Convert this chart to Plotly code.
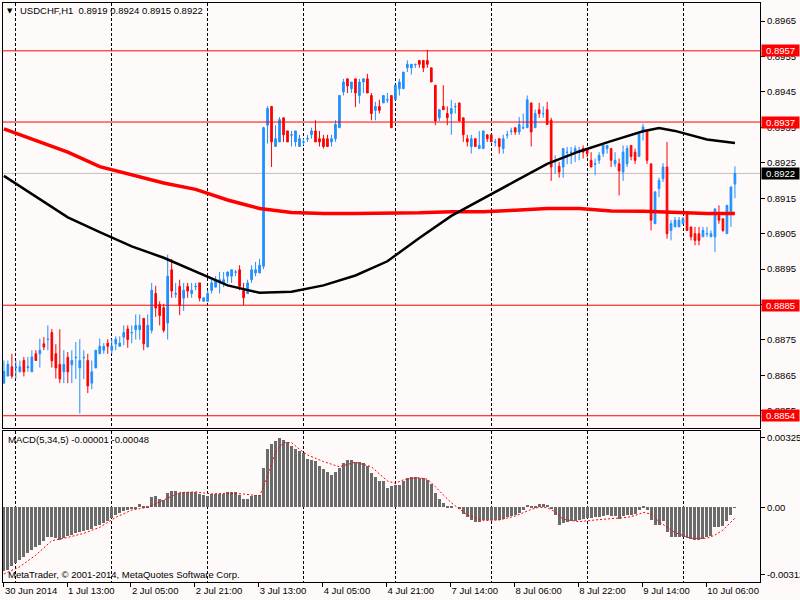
import plotly.graph_objects as go

# USDCHF H1 bars, index 0 = 30 Jun 2014 21:00, last = 10 Jul 13:00
opens = [
    0.88628, 0.88648, 0.88674, 0.88672, 0.88660, 0.88692, 0.88672, 0.88660, 0.88711, 0.88711,
    0.88739, 0.88751, 0.88771, 0.88711, 0.88681, 0.88660, 0.88701, 0.88680, 0.88700, 0.88671,
    0.88700, 0.88692, 0.88628, 0.88671, 0.88711, 0.88721, 0.88741, 0.88721, 0.88739, 0.88732,
    0.88758, 0.88781, 0.88770, 0.88779, 0.88779, 0.88811, 0.88730, 0.88777, 0.88881, 0.88850,
    0.88841, 0.88798, 0.88948, 0.88879, 0.88901, 0.88868, 0.88901, 0.88881, 0.88900, 0.88911,
    0.88859, 0.88859, 0.88890, 0.88899, 0.88911, 0.88911, 0.88930, 0.88930, 0.88941, 0.88948,
    0.88890, 0.88881, 0.88920, 0.88939, 0.88939, 0.88958, 0.89356, 0.89409, 0.89296, 0.89309,
    0.89377, 0.89340, 0.89328, 0.89309, 0.89296, 0.89308, 0.89317, 0.89329, 0.89340, 0.89318,
    0.89318, 0.89318, 0.89309, 0.89318, 0.89349, 0.89450, 0.89487, 0.89459, 0.89487, 0.89440,
    0.89478, 0.89487, 0.89440, 0.89398, 0.89409, 0.89419, 0.89427, 0.89440, 0.89428, 0.89459,
    0.89459, 0.89518, 0.89518, 0.89527, 0.89539, 0.89539, 0.89539, 0.89518, 0.89469, 0.89377,
    0.89409, 0.89389, 0.89389, 0.89408, 0.89419, 0.89377, 0.89318, 0.89296, 0.89318, 0.89290,
    0.89290, 0.89329, 0.89329, 0.89308, 0.89318, 0.89290, 0.89328, 0.89339, 0.89349, 0.89337,
    0.89348, 0.89349, 0.89419, 0.89349, 0.89400, 0.89388, 0.89400, 0.89370, 0.89253, 0.89240,
    0.89238, 0.89279, 0.89279, 0.89280, 0.89279, 0.89290, 0.89290, 0.89257, 0.89246, 0.89257,
    0.89276, 0.89290, 0.89290, 0.89247, 0.89247, 0.89224, 0.89247, 0.89299, 0.89280, 0.89268,
    0.89337, 0.89342, 0.89247, 0.89078, 0.89177, 0.89205, 0.89238, 0.89059, 0.89069, 0.89069,
    0.89078, 0.89106, 0.89069, 0.89050, 0.89050, 0.89041, 0.89049, 0.89041, 0.89041, 0.89101,
    0.89092, 0.89050, 0.89111, 0.89190,
]
highs = [
    0.88692, 0.88692, 0.88711, 0.88692, 0.88692, 0.88702, 0.88702, 0.88721, 0.88721, 0.88754,
    0.88758, 0.88791, 0.88781, 0.88738, 0.88780, 0.88721, 0.88716, 0.88721, 0.88744, 0.88752,
    0.88721, 0.88711, 0.88692, 0.88721, 0.88754, 0.88741, 0.88752, 0.88752, 0.88760, 0.88760,
    0.88791, 0.88791, 0.88791, 0.88822, 0.88822, 0.88811, 0.88822, 0.88911, 0.88903, 0.88859,
    0.88852, 0.88991, 0.88979, 0.88911, 0.88920, 0.88911, 0.88911, 0.88911, 0.88911, 0.88911,
    0.88869, 0.88890, 0.88920, 0.88930, 0.88942, 0.88942, 0.88942, 0.88948, 0.88948, 0.88961,
    0.88911, 0.88920, 0.88961, 0.88970, 0.88979, 0.89352, 0.89410, 0.89409, 0.89356, 0.89379,
    0.89377, 0.89340, 0.89340, 0.89340, 0.89329, 0.89318, 0.89329, 0.89349, 0.89370, 0.89340,
    0.89329, 0.89329, 0.89329, 0.89370, 0.89440, 0.89487, 0.89487, 0.89478, 0.89487, 0.89487,
    0.89487, 0.89501, 0.89447, 0.89422, 0.89428, 0.89440, 0.89447, 0.89440, 0.89469, 0.89487,
    0.89506, 0.89539, 0.89528, 0.89528, 0.89539, 0.89539, 0.89569, 0.89518, 0.89469, 0.89400,
    0.89469, 0.89409, 0.89428, 0.89419, 0.89419, 0.89377, 0.89329, 0.89329, 0.89318, 0.89340,
    0.89340, 0.89329, 0.89329, 0.89318, 0.89318, 0.89329, 0.89340, 0.89349, 0.89349, 0.89379,
    0.89389, 0.89440, 0.89419, 0.89400, 0.89419, 0.89409, 0.89422, 0.89377, 0.89271, 0.89252,
    0.89290, 0.89295, 0.89295, 0.89299, 0.89295, 0.89299, 0.89290, 0.89280, 0.89262, 0.89280,
    0.89299, 0.89299, 0.89290, 0.89280, 0.89262, 0.89299, 0.89299, 0.89299, 0.89290, 0.89330,
    0.89360, 0.89342, 0.89247, 0.89168, 0.89208, 0.89249, 0.89309, 0.89088, 0.89097, 0.89097,
    0.89097, 0.89106, 0.89069, 0.89069, 0.89069, 0.89069, 0.89069, 0.89059, 0.89120, 0.89130,
    0.89092, 0.89130, 0.89182, 0.89240,
]
lows = [
    0.88628, 0.88648, 0.88641, 0.88641, 0.88660, 0.88647, 0.88660, 0.88660, 0.88692, 0.88672,
    0.88721, 0.88721, 0.88672, 0.88641, 0.88628, 0.88628, 0.88628, 0.88628, 0.88640, 0.88542,
    0.88640, 0.88600, 0.88611, 0.88671, 0.88711, 0.88711, 0.88711, 0.88711, 0.88721, 0.88732,
    0.88735, 0.88728, 0.88741, 0.88751, 0.88751, 0.88721, 0.88730, 0.88768, 0.88815, 0.88791,
    0.88771, 0.88751, 0.88869, 0.88869, 0.88820, 0.88832, 0.88869, 0.88869, 0.88890, 0.88859,
    0.88859, 0.88859, 0.88881, 0.88899, 0.88881, 0.88899, 0.88911, 0.88911, 0.88930, 0.88890,
    0.88848, 0.88881, 0.88911, 0.88930, 0.88939, 0.88950, 0.89304, 0.89238, 0.89296, 0.89309,
    0.89309, 0.89309, 0.89296, 0.89296, 0.89296, 0.89300, 0.89309, 0.89318, 0.89309, 0.89296,
    0.89290, 0.89296, 0.89296, 0.89309, 0.89349, 0.89440, 0.89447, 0.89447, 0.89407, 0.89417,
    0.89447, 0.89447, 0.89370, 0.89370, 0.89389, 0.89419, 0.89419, 0.89349, 0.89428, 0.89440,
    0.89459, 0.89506, 0.89499, 0.89518, 0.89518, 0.89506, 0.89518, 0.89478, 0.89356, 0.89368,
    0.89400, 0.89356, 0.89329, 0.89389, 0.89368, 0.89309, 0.89296, 0.89276, 0.89296, 0.89290,
    0.89290, 0.89309, 0.89309, 0.89296, 0.89276, 0.89276, 0.89318, 0.89329, 0.89329, 0.89329,
    0.89345, 0.89349, 0.89296, 0.89349, 0.89377, 0.89377, 0.89358, 0.89199, 0.89219, 0.89208,
    0.89208, 0.89246, 0.89246, 0.89252, 0.89257, 0.89262, 0.89266, 0.89238, 0.89215, 0.89247,
    0.89266, 0.89276, 0.89238, 0.89238, 0.89158, 0.89199, 0.89238, 0.89257, 0.89247, 0.89268,
    0.89313, 0.89247, 0.89059, 0.89078, 0.89153, 0.89196, 0.89036, 0.89031, 0.89069, 0.89069,
    0.89078, 0.89059, 0.89031, 0.89017, 0.89017, 0.89041, 0.89041, 0.89041, 0.88998, 0.89078,
    0.89055, 0.89050, 0.89069, 0.89150,
]
closes = [
    0.88661, 0.88681, 0.88648, 0.88674, 0.88674, 0.88660, 0.88674, 0.88702, 0.88692, 0.88721,
    0.88730, 0.88752, 0.88691, 0.88671, 0.88640, 0.88681, 0.88660, 0.88692, 0.88701, 0.88692,
    0.88701, 0.88620, 0.88660, 0.88721, 0.88732, 0.88732, 0.88732, 0.88732, 0.88752, 0.88741,
    0.88771, 0.88751, 0.88771, 0.88791, 0.88791, 0.88739, 0.88791, 0.88890, 0.88840, 0.88819,
    0.88777, 0.88930, 0.88888, 0.88881, 0.88848, 0.88890, 0.88888, 0.88890, 0.88901, 0.88868,
    0.88869, 0.88881, 0.88911, 0.88920, 0.88920, 0.88920, 0.88942, 0.88948, 0.88942, 0.88901,
    0.88869, 0.88911, 0.88948, 0.88948, 0.88961, 0.89349, 0.89403, 0.89309, 0.89318, 0.89372,
    0.89329, 0.89309, 0.89329, 0.89340, 0.89318, 0.89309, 0.89318, 0.89340, 0.89309, 0.89309,
    0.89296, 0.89296, 0.89318, 0.89358, 0.89440, 0.89478, 0.89467, 0.89478, 0.89447, 0.89478,
    0.89487, 0.89447, 0.89389, 0.89409, 0.89398, 0.89440, 0.89428, 0.89349, 0.89469, 0.89478,
    0.89506, 0.89528, 0.89528, 0.89528, 0.89528, 0.89518, 0.89528, 0.89478, 0.89368, 0.89400,
    0.89400, 0.89377, 0.89403, 0.89409, 0.89368, 0.89329, 0.89309, 0.89318, 0.89296, 0.89299,
    0.89340, 0.89318, 0.89309, 0.89309, 0.89296, 0.89318, 0.89329, 0.89340, 0.89337, 0.89358,
    0.89349, 0.89428, 0.89337, 0.89389, 0.89389, 0.89389, 0.89358, 0.89238, 0.89254, 0.89224,
    0.89290, 0.89280, 0.89280, 0.89290, 0.89280, 0.89280, 0.89276, 0.89238, 0.89247, 0.89271,
    0.89299, 0.89299, 0.89257, 0.89257, 0.89227, 0.89280, 0.89290, 0.89268, 0.89257, 0.89330,
    0.89351, 0.89257, 0.89088, 0.89168, 0.89200, 0.89238, 0.89050, 0.89078, 0.89088, 0.89088,
    0.89092, 0.89059, 0.89041, 0.89031, 0.89031, 0.89059, 0.89050, 0.89050, 0.89120, 0.89088,
    0.89059, 0.89130, 0.89182, 0.89220,
]
bars = list(range(len(closes)))

# moving averages (bar index -> price)
ma_fast_idx = [0, 8, 16, 24, 32, 40, 48, 56, 64, 72, 80, 88, 96, 104, 112, 120, 128,
               136, 144, 152, 160, 164, 168, 176, 183]
ma_fast = [0.89213, 0.89154, 0.89096, 0.89054, 0.89014, 0.88982, 0.88944, 0.88904,
           0.88883, 0.88886, 0.88904, 0.88932, 0.88972, 0.89038, 0.89100, 0.89148,
           0.89198, 0.89247, 0.89282, 0.89311, 0.89339, 0.89348, 0.89340, 0.89316, 0.89306]
ma_slow_idx = [0, 8, 16, 24, 32, 40, 48, 56, 60, 64, 72, 80, 88, 96, 104, 112, 120,
               128, 136, 144, 152, 160, 168, 176, 183]
ma_slow = [0.89346, 0.89312, 0.89280, 0.89239, 0.89215, 0.89193, 0.89175, 0.89145,
           0.89133, 0.89121, 0.89110, 0.89107, 0.89107, 0.89107, 0.89109, 0.89112,
           0.89112, 0.89116, 0.89121, 0.89121, 0.89114, 0.89113, 0.89110, 0.89107, 0.89107]

# MACD(5,34,5) histogram, one value per bar
macd_hist = [
    -0.00297, -0.00290, -0.00274, -0.00259, -0.00243, -0.00228, -0.00212, -0.00197, -0.00184, -0.00173,
    -0.00158, -0.00138, -0.00138, -0.00142, -0.00150, -0.00142, -0.00135, -0.00127, -0.00119, -0.00115,
    -0.00108, -0.00104, -0.00101, -0.00088, -0.00081, -0.00073, -0.00062, -0.00051, -0.00034, -0.00026,
    -0.00019, -0.00014, -0.00008, -0.00003, 0.00016, 0.00002, 0.00005, 0.00048, 0.00051, 0.00039,
    0.00036, 0.00067, 0.00077, 0.00077, 0.00067, 0.00073, 0.00073, 0.00073, 0.00073, 0.00064,
    0.00057, 0.00054, 0.00064, 0.00064, 0.00064, 0.00064, 0.00073, 0.00073, 0.00073, 0.00057,
    0.00040, 0.00040, 0.00051, 0.00057, 0.00057, 0.00183, 0.00272, 0.00296, 0.00307, 0.00322,
    0.00311, 0.00302, 0.00286, 0.00271, 0.00260, 0.00252, 0.00226, 0.00218, 0.00214, 0.00194,
    0.00178, 0.00163, 0.00152, 0.00163, 0.00183, 0.00206, 0.00218, 0.00221, 0.00209, 0.00209,
    0.00206, 0.00190, 0.00159, 0.00139, 0.00124, 0.00121, 0.00090, 0.00101, 0.00104, 0.00105,
    0.00121, 0.00136, 0.00141, 0.00141, 0.00136, 0.00136, 0.00129, 0.00108, 0.00067, 0.00039,
    0.00020, 0.00008, 0.00005, 0.00000, -0.00008, -0.00031, -0.00046, -0.00057, -0.00070, -0.00070,
    -0.00057, -0.00057, -0.00057, -0.00057, -0.00057, -0.00053, -0.00045, -0.00042, -0.00034, -0.00026,
    -0.00014, 0.00012, 0.00002, 0.00008, 0.00017, 0.00017, 0.00011, -0.00008, -0.00034, -0.00081,
    -0.00073, -0.00070, -0.00065, -0.00065, -0.00057, -0.00054, -0.00050, -0.00050, -0.00045, -0.00045,
    -0.00039, -0.00034, -0.00042, -0.00042, -0.00053, -0.00042, -0.00034, -0.00033, -0.00031, -0.00014,
    0.00008, -0.00011, -0.00057, -0.00084, -0.00081, -0.00065, -0.00112, -0.00138, -0.00138, -0.00138,
    -0.00138, -0.00142, -0.00147, -0.00150, -0.00150, -0.00146, -0.00138, -0.00132, -0.00091, -0.00091,
    -0.00088, -0.00065, -0.00037, -0.00001,
]
signal_idx = [0, 4, 8, 12, 16, 20, 24, 28, 32, 36, 40, 44, 48, 52, 56, 60, 64, 66, 68, 70,
              72, 74, 76, 80, 84, 88, 92, 96, 98, 100, 102, 104, 106, 108, 110, 112, 116, 120,
              124, 128, 132, 134, 136, 138, 140, 144, 148, 152, 156, 158, 160, 162, 164, 168,
              172, 176, 178, 180, 183]
signal = [-0.00308, -0.00274, -0.00220, -0.00153, -0.00138, -0.00119, -0.00091, -0.00045,
          -0.00011, 0.00002, 0.00036, 0.00070, 0.00073, 0.00064, 0.00067, 0.00064, 0.00054,
          0.00144, 0.00260, 0.00302, 0.00302, 0.00271, 0.00245, 0.00214, 0.00190, 0.00211,
          0.00190, 0.00124, 0.00113, 0.00129, 0.00136, 0.00139, 0.00132, 0.00098, 0.00059,
          0.00023, -0.00034, -0.00060, -0.00057, -0.00039, -0.00008, 0.00002, 0.00000,
          -0.00019, -0.00054, -0.00065, -0.00057, -0.00050, -0.00045, -0.00037, -0.00022,
          -0.00029, -0.00065, -0.00116, -0.00142, -0.00142, -0.00127, -0.00104, -0.00048]

# horizontal levels drawn on the chart
level_values = [0.89566, 0.89365, 0.88848, 0.88536]
level_labels = ["0.8957", "0.8937", "0.8885", "0.8854"]

# axis labels
time_label_bars = [0, 16, 32, 48, 64, 80, 96, 112, 128, 144, 160, 176]
time_labels = ["30 Jun 2014", "1 Jul 13:00", "2 Jul 05:00", "2 Jul 21:00", "3 Jul 13:00",
               "4 Jul 05:00", "4 Jul 21:00", "7 Jul 14:00", "8 Jul 06:00", "8 Jul 22:00",
               "9 Jul 14:00", "10 Jul 06:00"]
day_separators = [3, 27, 51, 75, 98, 122, 146, 170]
price_ticks = [0.8965, 0.8955, 0.8945, 0.8935, 0.8925, 0.8915, 0.8905, 0.8895,
               0.8885, 0.8875, 0.8865, 0.8855]
macd_ticks = [0.00325, 0.0, -0.00312]
macd_tick_text = ["0.00325", "0.00", "-0.00312"]

BG = "#FFFAFA"
BLUE = "#1E90FF"
RED = "#FF0000"
FONT = dict(family="Liberation Sans, Arial, sans-serif", size=9.5, color="black")

fig = go.Figure()

fig.add_trace(go.Candlestick(
    x=bars, open=opens, high=highs, low=lows, close=closes,
    increasing=dict(line=dict(color=BLUE, width=1), fillcolor=BLUE),
    decreasing=dict(line=dict(color=RED, width=1), fillcolor=RED),
    whiskerwidth=0, hoverinfo="skip", xaxis="x", yaxis="y",
))
fig.add_trace(go.Scatter(x=ma_slow_idx, y=ma_slow, mode="lines",
                         line=dict(color=RED, width=3.5), hoverinfo="skip",
                         xaxis="x", yaxis="y"))
fig.add_trace(go.Scatter(x=ma_fast_idx, y=ma_fast, mode="lines",
                         line=dict(color="black", width=2.5), hoverinfo="skip",
                         xaxis="x", yaxis="y"))
fig.add_trace(go.Bar(x=bars, y=macd_hist, width=0.75, marker=dict(color="#6B6B6B", line=dict(width=0)),
                     hoverinfo="skip", xaxis="x2", yaxis="y2"))
fig.add_trace(go.Scatter(x=signal_idx, y=signal, mode="lines",
                         line=dict(color=RED, width=1, dash="2px,2px"), hoverinfo="skip",
                         xaxis="x2", yaxis="y2"))

# price levels + bid line
shapes = []
for v in level_values:
    shapes.append(dict(type="line", xref="x domain", x0=0, x1=1, yref="y", y0=v, y1=v,
                       line=dict(color=RED, width=1)))
shapes.append(dict(type="line", xref="x domain", x0=0, x1=1, yref="y", y0=closes[-1], y1=closes[-1],
                   line=dict(color="#C0C0C0", width=1), layer="below"))

annotations = []
for v, t in zip(level_values, level_labels):
    annotations.append(dict(x=1, xref="paper", xanchor="left", xshift=1, y=v, yref="y",
                            text=t, showarrow=False, bgcolor=RED, width=37, height=11,
                            borderpad=0, font=dict(family=FONT["family"], size=9.5, color="white")))
annotations.append(dict(x=1, xref="paper", xanchor="left", xshift=1, y=closes[-1], yref="y",
                        text=f"{closes[-1]:.4f}", showarrow=False, bgcolor="black", width=37,
                        height=11, borderpad=0,
                        font=dict(family=FONT["family"], size=9.5, color="white")))
annotations.append(dict(x=0.00885, y=0.9865, xref="paper", yref="paper", text="▼",
                        showarrow=False, xanchor="center", yanchor="middle",
                        font=dict(family="DejaVu Sans", size=7, color="black")))
annotations.append(dict(x=0.0195, y=0.9870, xref="paper", yref="paper",
                        text="USDCHF,H1\u00a0\u00a00.8919 0.8924 0.8915 0.8922",
                        showarrow=False, xanchor="left", yanchor="middle", font=FONT))
annotations.append(dict(x=0.004, y=0.2455, xref="paper", yref="paper",
                        text="MACD(5,34,5) -0.00001 -0.00048",
                        showarrow=False, xanchor="left", yanchor="middle", font=FONT))
annotations.append(dict(x=0.004, y=0.0121, xref="paper", yref="paper",
                        text="MetaTrader, © 2001-2014, MetaQuotes Software Corp.",
                        showarrow=False, xanchor="left", yanchor="middle", font=FONT))

x_range = [-0.225, 189.275]
day_grid = dict(tickvals=day_separators, showgrid=True, gridcolor="black",
                griddash="3px,2px", gridwidth=1, ticks="")

fig.update_layout(
    width=800, height=600,
    margin=dict(l=3, r=40, t=3, b=18),
    paper_bgcolor=BG, plot_bgcolor=BG,
    showlegend=False, boxgap=0.4, bargap=0,
    font=FONT,
    shapes=shapes, annotations=annotations,
    xaxis=dict(domain=[0, 1], anchor="y", range=x_range, showticklabels=False, ticks="",
               showgrid=False, zeroline=False, showline=True, mirror=True, automargin=False,
               linecolor="black", linewidth=1, rangeslider=dict(visible=False),
               minor=day_grid),
    xaxis2=dict(domain=[0, 1], anchor="y2", matches="x", range=x_range,
                tickvals=[max(b - 0.2, 0) for b in time_label_bars], ticktext=time_labels,
                ticks="outside", ticklen=4, tickcolor="black", ticklabelposition="outside right",
                tickfont=FONT, showgrid=False, zeroline=False, showline=True, mirror=True,
                automargin=False, linecolor="black", linewidth=1, minor=day_grid),
    yaxis=dict(domain=[0.2657, 1], anchor="x", side="right", range=[0.88501, 0.89701],
               tickvals=price_ticks, ticktext=[f"{p:.4f}" for p in price_ticks],
               ticks="outside", ticklen=4, tickcolor="black", tickfont=FONT,
               showgrid=False, zeroline=False, showline=True, mirror=True, automargin=False,
               linecolor="black", linewidth=1),
    yaxis2=dict(domain=[0, 0.2603], anchor="x2", side="right", range=[-0.00345, 0.003547],
                tickvals=macd_ticks, ticktext=macd_tick_text,
                ticks="outside", ticklen=4, tickcolor="black", tickfont=FONT,
                showgrid=False, zeroline=False, showline=True, mirror=True, automargin=False,
                linecolor="black", linewidth=1),
)

# the page body has a default margin; drop it so the 800x600 figure fills the window
fig.write_html("out.html", config={"displayModeBar": False},
               post_script="document.body.style.margin='0';")
